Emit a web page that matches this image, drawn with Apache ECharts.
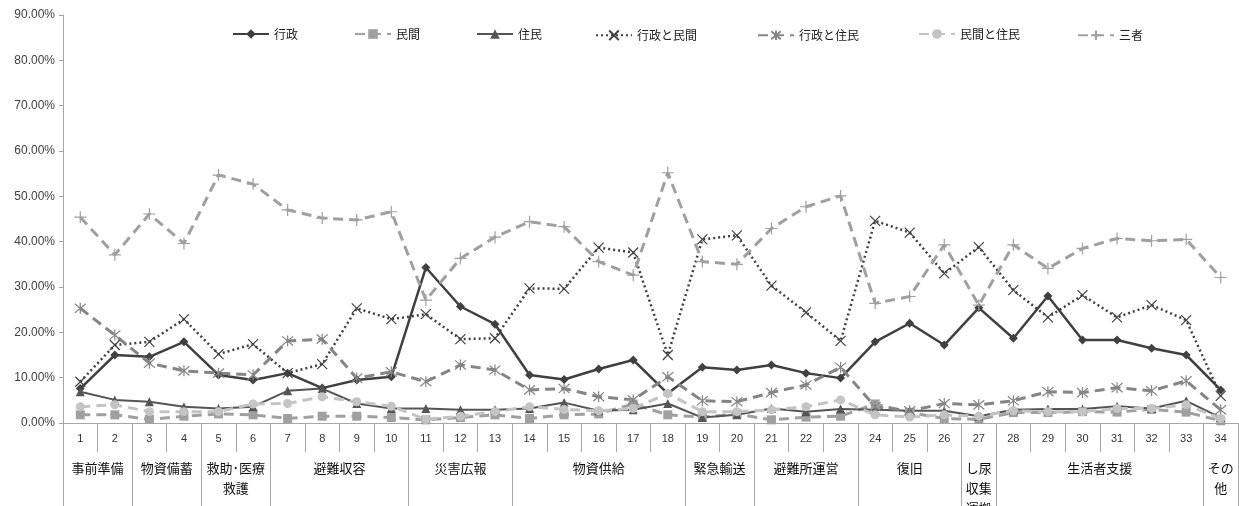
<!DOCTYPE html>
<html>
<head>
<meta charset="utf-8">
<script src="https://cdn.jsdelivr.net/npm/echarts@6/dist/echarts.min.js"></script>
<style>
  html, body { margin: 0; padding: 0; background: #fff; }
  #chart { width: 1239px; height: 506px; }
</style>
</head>
<body>
<div id="chart"></div>
<script>
// item numbers 1..34
const categories = ['1','2','3','4','5','6','7','8','9','10','11','12','13','14','15','16','17',
  '18','19','20','21','22','23','24','25','26','27','28','29','30','31','32','33','34']

// second row of the x axis: group names and how many items each covers
const groupNames = ['事前準備', '物資備蓄', '救助･医療\n救護', '避難収容', '災害広報', '物資供給',
  '緊急輸送', '避難所運営', '復旧', 'し尿\n収集\n運搬', '生活者支援', 'その\n他']
const groupSizes = [2, 2, 2, 4, 3, 5, 2, 3, 3, 1, 6, 1]

const yTicks = [0, 10, 20, 30, 40, 50, 60, 70, 80, 90]

// values in %
const gyosei = [7.6, 15.0, 14.6, 17.9, 10.6, 9.5, 11.0, 7.7, 9.5, 10.2, 34.3, 25.7, 21.8, 10.6, 9.6, 11.9, 13.9,
  6.5, 12.3, 11.7, 12.8, 11.0, 9.9, 17.9, 22.0, 17.2, 25.4, 18.7, 28.0, 18.3, 18.3, 16.5, 15.0, 7.3]
const minkan = [1.8, 1.8, 0.8, 1.5, 2.0, 1.8, 1.0, 1.5, 1.5, 1.2, 0.7, 1.2, 1.8, 1.0, 1.8, 2.0, 4.2,
  1.8, 1.3, 2.0, 0.7, 1.3, 1.5, 4.2, 2.3, 1.0, 0.8, 2.3, 2.3, 2.5, 2.4, 3.0, 2.4, 0.5]
const jumin = [6.9, 5.1, 4.7, 3.6, 3.2, 3.6, 7.1, 7.6, 4.3, 3.2, 3.2, 2.9, 2.9, 3.2, 4.5, 2.7, 2.9,
  4.3, 1.2, 1.8, 3.2, 2.5, 3.1, 2.9, 2.7, 2.7, 1.5, 2.9, 3.1, 3.1, 3.7, 3.2, 4.9, 1.2]
const gyoseiMinkan = [9.1, 17.2, 17.9, 22.9, 15.2, 17.4, 11.0, 13.0, 25.3, 22.9, 24.0, 18.5, 18.7, 29.7, 29.6, 38.7, 37.6,
  15.0, 40.5, 41.4, 30.3, 24.4, 18.1, 44.6, 42.0, 33.0, 38.8, 29.3, 23.3, 28.2, 23.3, 26.0, 22.7, 6.0]
const gyoseiJumin = [25.3, 19.4, 13.2, 11.5, 11.0, 10.6, 18.1, 18.5, 9.9, 11.3, 9.1, 12.8, 11.7, 7.3, 7.6, 5.8, 5.1,
  10.2, 4.9, 4.7, 6.7, 8.4, 12.3, 3.6, 2.7, 4.3, 4.0, 4.9, 6.9, 6.7, 7.8, 7.1, 9.3, 2.9]
const minkanJumin = [3.6, 4.0, 2.5, 2.5, 2.5, 4.2, 4.3, 5.8, 4.7, 3.7, 0.8, 1.5, 2.5, 3.6, 3.0, 2.7, 3.2,
  6.5, 2.5, 2.5, 2.9, 3.6, 5.1, 1.8, 1.3, 1.8, 1.5, 2.7, 2.5, 2.5, 3.2, 3.2, 4.0, 1.0]
const sansha = [45.4, 37.1, 46.1, 39.6, 54.7, 52.7, 47.0, 45.2, 44.8, 46.6, 27.1, 36.3, 41.0, 44.4, 43.3, 35.6, 32.6,
  55.2, 35.6, 35.0, 42.9, 47.7, 50.1, 26.4, 27.9, 39.3, 26.0, 39.3, 34.1, 38.5, 40.7, 40.2, 40.5, 32.1]

const seriesNames = ['行政', '民間', '住民', '行政と民間', '行政と住民', '民間と住民', '三者']

// half-step axis for the group row: 2 slots per item, group label in the middle
const halfLabels = new Array(categories.length * 2 + 1).fill('')
const groupEdges = new Set([0])
let start = 0
groupNames.forEach((name, i) => {
  halfLabels[2 * start + groupSizes[i]] = name
  start += groupSizes[i]
  groupEdges.add(2 * start)
})

const CJK = '"Noto Sans CJK JP", "Liberation Sans", sans-serif'
const DASH = [10, 6]
const X_MARK = 'path://M0,0L10,10M10,0L0,10'
const STAR_MARK = 'path://M0,0L10,10M10,0L0,10M5,-1L5,11'
const PLUS_MARK = 'path://M5,0L5,10M0,5L10,5'

function line(name, data, color, opts) {
  const lineType = opts.dash || 'solid'
  return {
    name,
    type: 'line',
    data,
    symbol: opts.symbol,
    symbolSize: opts.size,
    showSymbol: true,
    lineStyle: { color, width: opts.width, type: lineType },
    itemStyle: {
      color: opts.hollow ? 'none' : color,
      borderColor: color,
      borderWidth: opts.hollow ? 1.2 : 0,
    },
    emphasis: { disabled: true },
    animation: false,
  }
}

const chart = echarts.init(document.getElementById('chart'))

const legendLeft = [227, 349, 471, 590, 752, 913, 1072]

chart.setOption({
  backgroundColor: '#fff',
  textStyle: { fontFamily: CJK },
  legend: seriesNames.map((n, i) => ({
    data: [n],
    left: legendLeft[i],
    top: 23,
    itemWidth: 36,
    itemHeight: 12,
    textStyle: { fontSize: 12, color: '#222', fontFamily: CJK },
  })),
  grid: { left: 63, right: 1, top: 15, bottom: 83, containLabel: false, outerBoundsMode: 'none' },
  xAxis: [
    {
      type: 'category',
      data: categories,
      boundaryGap: true,
      axisLine: { lineStyle: { color: '#a6a6a6', width: 1 } },
      axisTick: { show: true, interval: 0, length: 29, lineStyle: { color: '#a6a6a6' } },
      axisLabel: { interval: 0, margin: 10, fontSize: 11, color: '#333', fontFamily: '"Liberation Sans", sans-serif' },
      splitLine: { show: false },
    },
    {
      type: 'category',
      data: halfLabels,
      boundaryGap: false,
      position: 'bottom',
      axisLine: { show: false },
      axisTick: {
        show: true,
        interval: (i) => groupEdges.has(i),
        length: 83,
        lineStyle: { color: '#a6a6a6' },
      },
      axisLabel: {
        interval: 0,
        margin: 35,
        fontSize: 13,
        lineHeight: 20,
        color: '#111',
        fontFamily: CJK,
        verticalAlign: 'top',
      },
      splitLine: { show: false },
    },
  ],
  yAxis: {
    type: 'value',
    min: yTicks[0],
    max: yTicks[yTicks.length - 1],
    interval: yTicks[1] - yTicks[0],
    axisLine: { show: true, lineStyle: { color: '#a6a6a6' } },
    axisTick: { show: true, length: 4, lineStyle: { color: '#a6a6a6' } },
    axisLabel: {
      formatter: (v) => v.toFixed(2) + '%',
      fontSize: 12,
      color: '#404040',
      margin: 8,
      fontFamily: '"Liberation Sans", sans-serif',
    },
    splitLine: { show: false },
  },
  series: [
    line('行政', gyosei, '#404040', { symbol: 'diamond', size: 9, width: 2.5 }),
    line('民間', minkan, '#a0a0a0', { symbol: 'rect', size: 9, width: 3, dash: DASH }),
    line('住民', jumin, '#555555', { symbol: 'triangle', size: 9, width: 2 }),
    line('行政と民間', gyoseiMinkan, '#404040', { symbol: X_MARK, size: 10, width: 2.5, dash: [2, 3], hollow: true }),
    line('行政と住民', gyoseiJumin, '#858585', { symbol: STAR_MARK, size: 11, width: 3, dash: DASH, hollow: true }),
    line('民間と住民', minkanJumin, '#c4c4c4', { symbol: 'circle', size: 9, width: 3, dash: DASH }),
    line('三者', sansha, '#a0a0a0', { symbol: PLUS_MARK, size: 12, width: 3, dash: DASH, hollow: true }),
  ],
})

window.addEventListener('resize', () => chart.resize())
</script>
</body>
</html>
